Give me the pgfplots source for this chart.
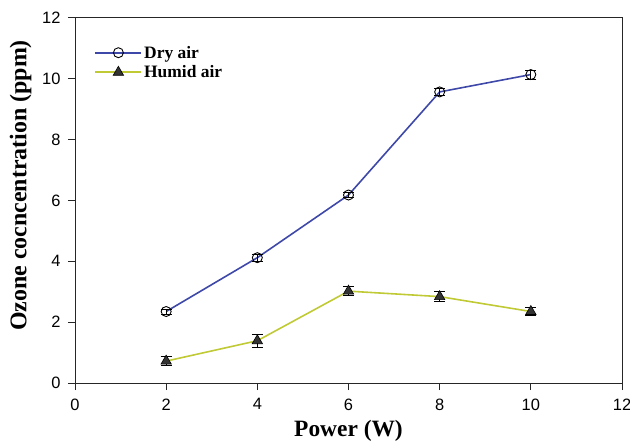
\documentclass[border=0pt]{standalone}
\usepackage{fontspec}
\setmainfont{Liberation Serif}
\setsansfont{Liberation Sans}
\usepackage{pgfplots}
\pgfplotsset{compat=1.18}
\definecolor{dryblue}{RGB}{62,72,168}
\definecolor{humidgreen}{RGB}{192,202,52}
\begin{document}
\begin{tikzpicture}[x=1bp,y=1bp]
\begin{axis}[
    name=ax,
    scale only axis,
    width=547bp, height=365bp,
    xmin=0, xmax=12, ymin=0, ymax=12,
    xtick={0,2,...,12}, ytick={0,2,...,12},
    axis line style={line width=1pt, black!85},
    tick style={line width=1pt, black!85},
    tick align=outside,
    major tick length=7bp,
    xtick pos=bottom, ytick pos=left,
    ticklabel style={font=\sffamily\fontsize{16.5}{18}\selectfont},
    xticklabel style={yshift=-5bp},
    yticklabel style={xshift=-4bp},
    /pgf/number format/assume math mode=true,
    xlabel={\textbf{Power (W)}},
    ylabel={\textbf{Ozone cocncentration (ppm)}},
    xlabel style={font=\fontsize{23.5}{25}\selectfont, yshift=-3bp},
    ylabel style={font=\fontsize{24}{26}\selectfont, yshift=4bp, xshift=15bp},
    legend style={draw=none, fill=none, at={(0.03,0.935)}, anchor=north west,
        font=\bfseries\fontsize{17.5}{19}\selectfont, row sep=2bp},
    legend cell align=left,
    legend image code/.code={
        \draw[#1, mark=none] (0bp,0bp) -- (46bp,0bp);
        \draw[#1, draw=none] plot coordinates {(23bp,0bp)};
    },
    error bars/error bar style={line width=0.9pt, black},
    error bars/error mark options={rotate=90, mark size=5.5bp, line width=0.9pt, black},
]
\addplot[dryblue, line width=1.6pt, mark=o, mark size=5bp,
    mark options={draw=black, fill=white, line width=0.9pt},
    error bars/.cd, y dir=both, y explicit]
coordinates {
    (2,2.35) +- (0,0.08)
    (4,4.12) +- (0,0.12)
    (6,6.18) +- (0,0.08)
    (8,9.57) +- (0,0.12)
    (10,10.14) +- (0,0.15)
};
\addlegendentry{Dry air}
\addplot[humidgreen, line width=1.6pt, mark=triangle*, mark size=6bp,
    mark options={draw=black, fill=black!80, line width=0.6pt},
    error bars/.cd, y dir=both, y explicit]
coordinates {
    (2,0.72) +- (0,0.15)
    (4,1.39) +- (0,0.22)
    (6,3.02) +- (0,0.15)
    (8,2.84) +- (0,0.17)
    (10,2.35) +- (0,0.13)
};
\addlegendentry{Humid air}
\end{axis}
\pgfresetboundingbox
\path ([xshift=-75bp,yshift=-63bp]ax.south west) rectangle ([xshift=8bp,yshift=18bp]ax.north east);
\end{tikzpicture}
\end{document}
